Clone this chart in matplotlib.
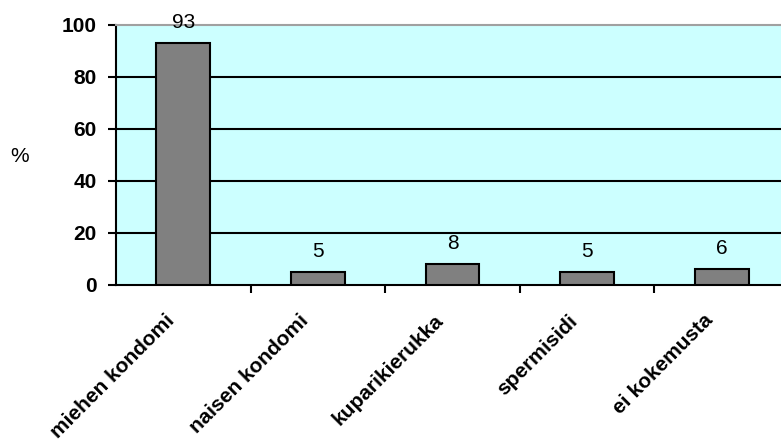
import matplotlib
matplotlib.use("Agg")
import matplotlib.pyplot as plt
import numpy as np

# data
categories = ["miehen kondomi", "naisen kondomi", "kuparikierukka", "spermisidi", "ei kokemusta"]
values = [93, 5, 8, 5, 6]
yticks = [0, 20, 40, 60, 80, 100]

plt.rcParams['font.family'] = ['Liberation Sans', 'DejaVu Sans']

fig = plt.figure(figsize=(7.81, 4.43), dpi=100)
# plot area runs a bit past the right edge of the image, like the original
ax = fig.add_axes([116/781., 158/443., 673/781., 260/443.])
ax.set_facecolor("#CCFFFF")

x = np.arange(len(categories))
ax.bar(x, values, width=0.4, color="#808080", edgecolor="black", linewidth=1.5, zorder=3)

for xi, v in zip(x, values):
    ax.annotate(str(v), (xi, v), xytext=(0, 8), textcoords="offset points",
                ha="center", va="bottom", fontsize=15, zorder=4)

ax.set_xlim(-0.5, len(categories) - 0.5)
ax.set_ylim(0, 100)
ax.set_yticks(yticks)
ax.set_yticklabels([str(t) for t in yticks], fontsize=15, fontweight="bold")
for t in yticks[1:-1]:
    ax.axhline(t, color="black", linewidth=1.5, zorder=1)

# category ticks sit between the bars
ax.set_xticks(np.arange(len(categories)) + 0.5, minor=False)
ax.set_xticklabels([])
ax.tick_params(axis="x", length=6, width=1.5, direction="out")
ax.tick_params(axis="y", length=6, width=1.5, direction="out", pad=8)
for xi, name in zip(x, categories):
    ax.text(xi - 0.14, -0.1, name, transform=ax.get_xaxis_transform(),
            rotation=45, ha="right", va="top", rotation_mode="anchor",
            fontsize=15, fontweight="bold")

ax.spines["left"].set_linewidth(1.5)
ax.spines["bottom"].set_linewidth(1.5)
ax.spines["top"].set_color("#A0A0A0")
ax.spines["top"].set_linewidth(1.5)
ax.spines["right"].set_visible(False)

fig.text(20/781., 1 - 156/443., "%", fontsize=15, ha="center", va="center")

fig.savefig("out.png", dpi=100)
